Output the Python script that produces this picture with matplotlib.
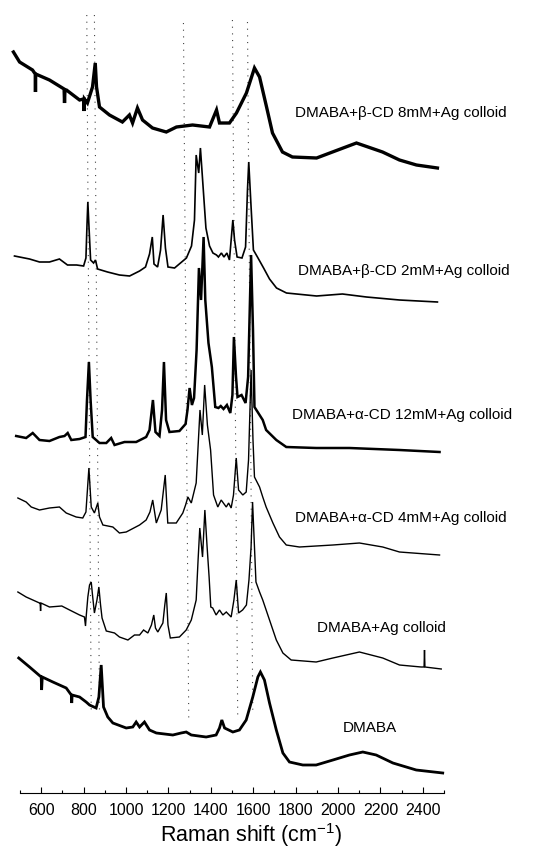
import matplotlib
matplotlib.use("Agg")
import matplotlib.pyplot as plt
from matplotlib.ticker import MultipleLocator

plt.rcParams["font.family"] = ["Liberation Sans", "DejaVu Sans"]
plt.rcParams["mathtext.default"] = "regular"

# Raman shift (cm-1) and stacked intensity (a.u., offset per spectrum)
beta8_shift = [469, 498, 559, 572, 573, 574, 639, 708, 710, 712, 719, 781, 800, 802, 804,
               818, 842, 855, 861, 875, 922, 983, 1016, 1031, 1054, 1078, 1125, 1190, 1238,
               1314, 1394, 1427, 1441, 1488, 1521, 1568, 1606, 1630, 1663, 1691, 1738, 1785,
               1899, 1974, 2087, 2210, 2290, 2370, 2469]
beta8_int = [741, 731, 723, 719, 701, 719, 713, 704, 690, 703, 703, 693, 694, 682, 694,
             690, 706, 730, 706, 686, 678, 671, 678, 670, 685, 673, 665, 661, 666,
             668, 666, 683, 670, 670, 680, 700, 725, 716, 686, 660, 641, 636,
             635, 641, 650, 641, 633, 628, 625]

beta2_shift = [474, 545, 592, 639, 686, 724, 767, 800, 811, 816, 820, 825, 833, 847, 856,
               866, 913, 969, 1017, 1064, 1092, 1111, 1124, 1132, 1149, 1163, 1175, 1186,
               1198, 1229, 1257, 1285, 1309, 1323, 1331, 1343, 1351, 1363, 1377, 1394, 1410,
               1427, 1436, 1450, 1462, 1476, 1488, 1498, 1504, 1512, 1524, 1547, 1564, 1573,
               1579, 1590, 1601, 1620, 1649, 1677, 1710, 1757, 1899, 2021, 2134, 2290, 2469]
beta2_int = [537, 534, 531, 531, 534, 528, 528, 527, 535, 568, 591, 568, 533, 530, 533,
             524, 521, 518, 517, 522, 526, 539, 556, 529, 526, 543, 578, 545,
             526, 525, 530, 535, 547, 573, 638, 620, 645, 608, 565, 547, 540,
             538, 536, 540, 536, 540, 533, 558, 573, 553, 536, 535, 546, 603,
             631, 586, 543, 536, 525, 514, 505, 500, 497, 499, 496, 493, 491]

alpha12_shift = [482, 529, 560, 592, 639, 686, 710, 725, 742, 781, 809, 816, 825, 833, 843,
                 875, 907, 930, 946, 993, 1048, 1095, 1111, 1127, 1139, 1158, 1170, 1179,
                 1189, 1205, 1252, 1281, 1290, 1300, 1311, 1321, 1333, 1344, 1354, 1366, 1374,
                 1389, 1405, 1421, 1436, 1447, 1460, 1476, 1492, 1502, 1509, 1519, 1526, 1545,
                 1564, 1576, 1590, 1599, 1606, 1645, 1661, 1709, 1756, 1897, 2054, 2290, 2479]
alpha12_int = [357, 355, 360, 353, 352, 356, 357, 360, 353, 354, 356, 393, 431, 393, 356,
               350, 350, 355, 348, 351, 351, 356, 363, 393, 361, 357, 383, 431,
               373, 361, 362, 369, 383, 405, 388, 395, 443, 525, 493, 556, 493,
               450, 426, 386, 385, 387, 384, 388, 380, 398, 456, 416, 396, 398,
               390, 416, 538, 463, 386, 373, 363, 353, 346, 345, 345, 343, 341]

alpha4_shift = [490, 529, 553, 592, 639, 686, 718, 765, 796, 811, 825, 836, 851, 867, 875,
                891, 938, 969, 1001, 1064, 1095, 1113, 1126, 1143, 1166, 1185, 1197, 1237,
                1268, 1281, 1292, 1308, 1331, 1349, 1360, 1371, 1384, 1399, 1413, 1433, 1449,
                1473, 1484, 1496, 1507, 1520, 1531, 1551, 1567, 1578, 1590, 1599, 1606, 1630,
                1645, 1661, 1693, 1724, 1756, 1818, 1976, 2101, 2211, 2290, 2479]
alpha4_int = [295, 291, 286, 283, 285, 286, 280, 276, 275, 281, 325, 286, 280, 290, 276,
              268, 266, 260, 261, 268, 273, 281, 293, 270, 283, 318, 270, 270,
              280, 288, 296, 290, 310, 383, 358, 408, 368, 343, 298, 286, 293,
              286, 290, 285, 298, 335, 303, 298, 301, 333, 423, 353, 316, 306,
              296, 286, 270, 256, 248, 246, 248, 250, 246, 241, 238]

ag_shift = [490, 529, 592, 595, 597, 599, 639, 697, 734, 781, 804, 809, 812, 820, 828,
            836, 842, 851, 863, 872, 880, 887, 907, 946, 969, 1009, 1040, 1064, 1083,
            1103, 1120, 1131, 1139, 1150, 1174, 1183, 1190, 1198, 1209, 1252, 1284, 1308,
            1331, 1340, 1348, 1361, 1372, 1382, 1392, 1400, 1409, 1425, 1441, 1457, 1473,
            1496, 1509, 1520, 1531, 1550, 1568, 1580, 1590, 1597, 1606, 1613, 1630, 1645,
            1677, 1709, 1740, 1779, 1897, 1976, 2101, 2211, 2290, 2392, 2406, 2408, 2410, 2487]
ag_int = [201, 196, 190, 190, 182, 190, 186, 187, 183, 178, 176, 167, 176, 196, 208,
          211, 198, 180, 193, 206, 188, 175, 162, 160, 156, 153, 158, 158, 163,
          160, 168, 178, 165, 161, 170, 188, 200, 168, 155, 156, 163, 173,
          193, 233, 265, 236, 283, 248, 216, 186, 185, 178, 183, 178, 181,
          176, 193, 213, 180, 183, 188, 213, 246, 291, 246, 211, 201, 193,
          173, 153, 140, 133, 131, 135, 141, 135, 128, 126, 126, 143, 126, 124]

dmaba_shift = [494, 545, 600, 602, 605, 655, 718, 742, 744, 746, 781, 812, 828, 859, 872,
               883, 894, 914, 938, 1001, 1032, 1048, 1064, 1087, 1111, 1143, 1221, 1260,
               1284, 1308, 1378, 1425, 1441, 1452, 1465, 1504, 1535, 1567, 1598, 1622, 1634,
               1653, 1677, 1709, 1740, 1771, 1834, 1897, 1976, 2054, 2117, 2180, 2259, 2369, 2494]
dmaba_int = [135, 126, 116, 103, 116, 111, 105, 98, 90, 98, 96, 91, 88, 85, 96,
             128, 86, 76, 70, 65, 66, 71, 66, 71, 63, 60, 58, 60,
             61, 58, 56, 58, 65, 73, 65, 61, 63, 73, 96, 116, 121,
             113, 90, 63, 40, 31, 28, 28, 33, 38, 41, 38, 30, 23, 20]

spectra = [
    (beta8_shift, beta8_int, 2.4),
    (beta2_shift, beta2_int, 1.2),
    (alpha12_shift, alpha12_int, 1.8),
    (alpha4_shift, alpha4_int, 1.0),
    (ag_shift, ag_int, 1.0),
    (dmaba_shift, dmaba_int, 2.0),
]

labels = ["DMABA+β-CD 8mM+Ag colloid", "DMABA+β-CD 2mM+Ag colloid",
          "DMABA+α-CD 12mM+Ag colloid", "DMABA+α-CD 4mM+Ag colloid",
          "DMABA+Ag colloid", "DMABA"]
label_x = [1795, 1809, 1785, 1795, 1903, 2021]
label_y = [680, 522, 378, 275, 165, 65]

# band guide lines: shift at top / bottom end, intensity at top / bottom end
guide_top = [815, 851, 1271, 1502, 1573]
guide_bottom = [836, 875, 1296, 1527, 1598]
guide_top_y = [778, 778, 770, 773, 771]
guide_bottom_y = [80, 80, 71, 73, 81]

fig = plt.figure(figsize=(5.41, 8.52), dpi=100)
ax = fig.add_axes([20 / 541, 59 / 852, 424 / 541, 793 / 852])

for x0, x1, y0, y1 in zip(guide_top, guide_bottom, guide_top_y, guide_bottom_y):
    ax.plot([x0, x1], [y0, y1], color="#444444", lw=0.8, linestyle=(0, (1, 5)))

for xs, ys, lw in spectra:
    ax.plot(xs, ys, color="black", lw=lw, clip_on=False, solid_joinstyle="miter")

for text, x, y in zip(labels, label_x, label_y):
    ax.text(x, y, text, fontsize=11, ha="left", va="center")

ax.set_xlim(500, 2500)
ax.set_ylim(0, 793)
ax.xaxis.set_minor_locator(MultipleLocator(100))
ax.set_xticks(range(600, 2401, 200))
ax.tick_params(axis="x", which="major", direction="in", length=4, width=0.8,
               labelsize=11.5, pad=7)
ax.tick_params(axis="x", which="minor", direction="in", length=2.5, width=0.8)
ax.set_yticks([])
for side in ["left", "right", "top"]:
    ax.spines[side].set_visible(False)
ax.spines["bottom"].set_linewidth(0.8)
ax.patch.set_alpha(0)

ax.set_xlabel("Raman shift (cm$^{-1}$)", fontsize=15.5)
ax.xaxis.set_label_coords(0.545, -0.036)

fig.savefig("out.png", dpi=100)
